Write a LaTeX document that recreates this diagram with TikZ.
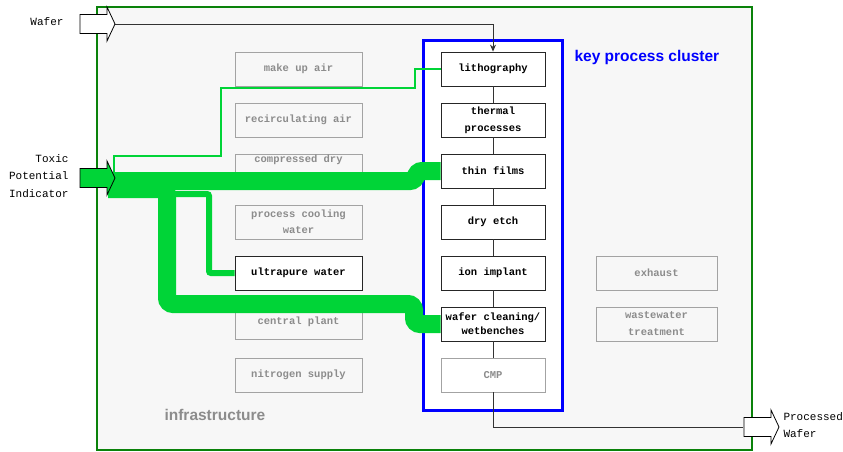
\documentclass[tikz,border=0pt]{standalone}
\usepackage{fontspec}
\newfontfamily\boxfont{Liberation Mono}
\newfontfamily\titlefont{Liberation Sans}
\usetikzlibrary{arrows.meta}
\definecolor{panel}{HTML}{F7F7F7}
\definecolor{framegreen}{HTML}{0A820A}
\definecolor{flowgreen}{RGB}{0,212,55}
\definecolor{softgrey}{HTML}{8C8C8C}
\definecolor{clusterblue}{HTML}{0000FF}
\begin{document}
\begin{tikzpicture}[x=1pt,y=-1pt,
  every node/.style={font=\boxfont\fontsize{11}{16}\selectfont},
  procbox/.style={draw=black!85, fill=white, line width=0.8pt,
    minimum width=104pt, minimum height=34pt, inner sep=1pt, align=center,
    font=\boxfont\bfseries\fontsize{10.5}{16}\selectfont},
  infrabox/.style={draw=softgrey!80, line width=0.8pt,
    minimum width=127pt, minimum height=34pt, inner sep=1pt,
    text=softgrey, align=center,
    font=\boxfont\bfseries\fontsize{10.5}{16}\selectfont},
  wire/.style={draw=black!80, line width=0.8pt},
  flow/.style={draw=flowgreen, line width=18pt, rounded corners=6pt},
  flowbranch/.style={draw=flowgreen, line width=6pt, rounded corners=2pt},
  flowthin/.style={draw=flowgreen, line width=1.8pt},
  pics/blockarrow/.style={code={
    \draw[line width=0.8pt, fill=#1, line join=miter]
      (0,0) -- (-8,-17) -- (-8,-9.5) -- (-35,-9.5) -- (-35,9.5)
      -- (-8,9.5) -- (-8,17) -- cycle;}}
]
\useasboundingbox (0,0) rectangle (843,452);

% site frame and the key process cluster
\draw[fill=panel, draw=framegreen, line width=2.5pt] (97,7) rectangle (752,450);
\draw[fill=white, draw=clusterblue, line width=3pt] (423,41) rectangle (562,410);

% infrastructure units
\node[infrabox] (makeup)  at (298.5,69)  {make up air};
\node[infrabox] (recirc)  at (298.5,120) {recirculating air};
\node[infrabox] (cda)     at (298.5,171) {};
\node[text=softgrey, font=\boxfont\bfseries\fontsize{10.5}{16}\selectfont]
  (cdalbl) at (298.5,160) {compressed dry};
\node[infrabox] (pcw)     at (298.5,222) {process cooling\\water};
\node[infrabox] (central) at (298.5,322) {central plant};
\node[infrabox] (nitro)   at (298.5,375) {nitrogen supply};
\node[infrabox, minimum width=121pt] (exhaust) at (656.5,273) {exhaust};
\node[infrabox, minimum width=121pt, font=\boxfont\bfseries\fontsize{10.5}{17}\selectfont]
  (waste) at (656.5,324) {wastewater\\treatment};

% process steps
\node[procbox] (litho)   at (493,69)  {lithography};
\node[procbox, font=\boxfont\bfseries\fontsize{10.5}{17}\selectfont] (thermal) at (493,120) {thermal\\processes};
\node[procbox] (films)   at (493,171) {thin films};
\node[procbox] (etch)    at (493,222) {dry etch};
\node[procbox] (implant) at (493,273) {ion implant};
\node[procbox, font=\boxfont\bfseries\fontsize{10.5}{14}\selectfont] (wet) at (493,324) {wafer cleaning/\\wetbenches};
\node[procbox, draw=softgrey!80, text=softgrey] (cmp) at (493,375) {CMP};
\node[procbox, minimum width=127pt] (upw) at (298.5,273) {ultrapure water};

% wafer flow
\coordinate (waferTip) at (115,24);
\coordinate (toxicTip) at (115,178);
\coordinate (outTip)   at (779,427);
\coordinate (outTail)  at (743,427);
\draw[wire, -{Stealth[length=7pt,width=6pt]}] (waferTip) -| (litho.north);
\draw[wire] (litho) -- (thermal);
\draw[wire] (thermal) -- (films);
\draw[wire] (films) -- (etch);
\draw[wire] (etch) -- (implant);
\draw[wire] (implant) -- (wet);
\draw[wire] (wet) -- (cmp);
\draw[wire] (cmp.south) |- (outTail);

% toxic potential flows
\coordinate (srcA) at (108,181);
\coordinate (srcB) at (108,189);
\coordinate (srcC) at (167,194);
\coordinate (srcD) at (114,174);
\draw[flowthin] (srcD) -- (114,156) -- (221,156) -- (221,88) -- (415,88) -- (415,69) -- (litho.west);
\draw[flow] (srcA) -- (416,181) -- (416,171) -- (films.west);
\draw[flow] (srcB) -- (167,189) -- (167,304) -- (414,304) -- (414,324) -- (wet.west);
\draw[flowbranch] (srcC) -- (209,194) -- (209,273) -- (upw.west);

% inlet and outlet arrows
\pic at (waferTip) {blockarrow=white};
\pic at (toxicTip) {blockarrow=flowgreen};
\pic at (outTip) {blockarrow=white};

% labels
\node[anchor=east, align=right] (waferlbl) at (67,22) {Wafer};
\node[anchor=east, align=right, font=\boxfont\fontsize{11}{17.5}\selectfont]
  (toxiclbl) at (72,176) {Toxic\\Potential\\Indicator};
\node[anchor=west, align=left, font=\boxfont\fontsize{11}{17}\selectfont]
  (outlbl) at (780,425) {Processed\\Wafer};
\node[anchor=west, text=clusterblue, font=\titlefont\bfseries\fontsize{15.5}{18}\selectfont]
  (clusterlbl) at (571,57) {key process cluster};
\node[anchor=west, text=softgrey, font=\titlefont\bfseries\fontsize{15.5}{18}\selectfont]
  (infralbl) at (161,415) {infrastructure};
\end{tikzpicture}
\end{document}
